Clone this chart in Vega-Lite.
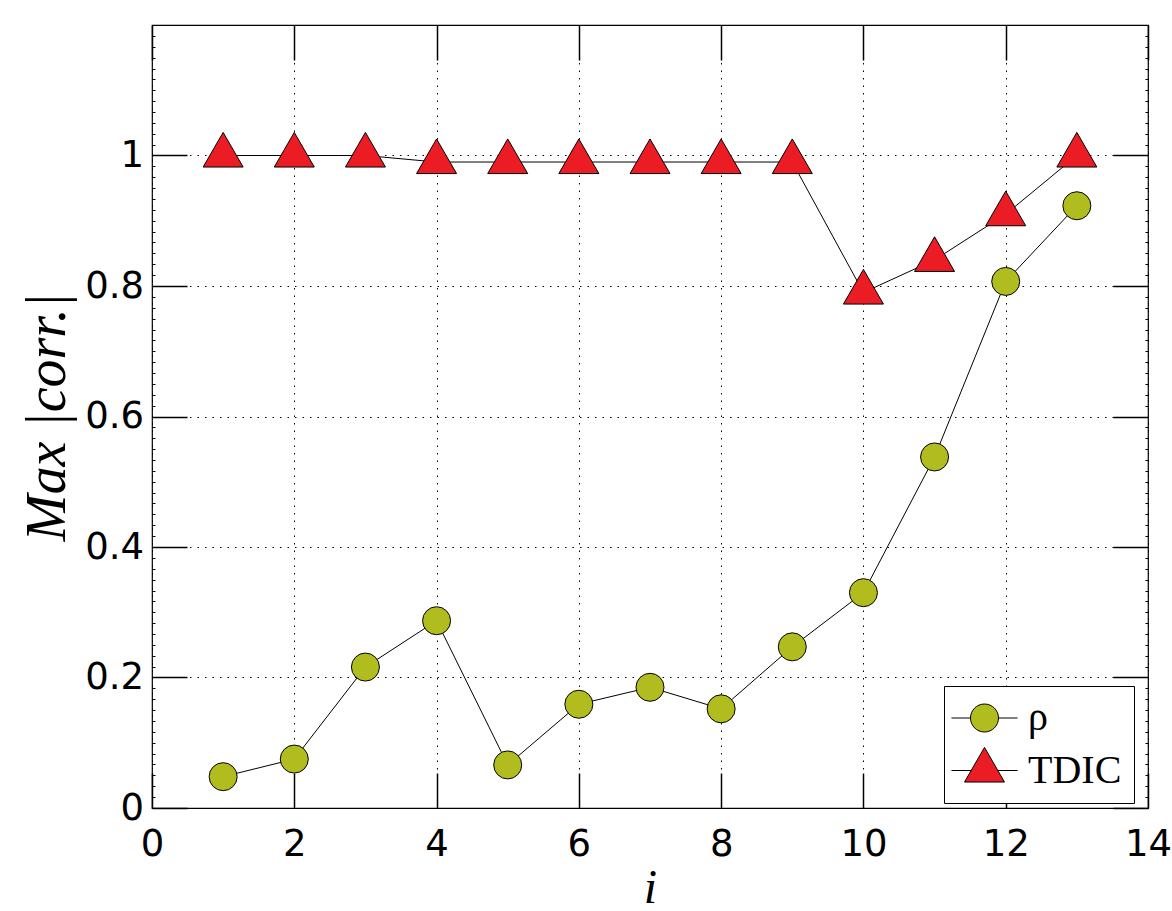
{
  "$schema": "https://vega.github.io/schema/vega-lite/v6.json",
  "autosize": "none",
  "width": 996,
  "height": 783,
  "padding": {"left": 152, "top": 25, "right": 24, "bottom": 103},
  "background": "white",
  "config": {"view": {"stroke": "#000", "strokeWidth": 1.2}},
  "data": {"values": [
    {"i": 1, "v": 0.048, "s": "ρ"}, {"i": 2, "v": 0.075, "s": "ρ"}, {"i": 3, "v": 0.216, "s": "ρ"},
    {"i": 4, "v": 0.287, "s": "ρ"}, {"i": 5, "v": 0.066, "s": "ρ"}, {"i": 6, "v": 0.159, "s": "ρ"},
    {"i": 7, "v": 0.185, "s": "ρ"}, {"i": 8, "v": 0.152, "s": "ρ"}, {"i": 9, "v": 0.247, "s": "ρ"},
    {"i": 10, "v": 0.33, "s": "ρ"}, {"i": 11, "v": 0.538, "s": "ρ"}, {"i": 12, "v": 0.807, "s": "ρ"},
    {"i": 13, "v": 0.923, "s": "ρ"},
    {"i": 1, "v": 1.0, "s": "TDIC"}, {"i": 2, "v": 1.0, "s": "TDIC"}, {"i": 3, "v": 1.0, "s": "TDIC"},
    {"i": 4, "v": 0.99, "s": "TDIC"}, {"i": 5, "v": 0.99, "s": "TDIC"}, {"i": 6, "v": 0.99, "s": "TDIC"},
    {"i": 7, "v": 0.99, "s": "TDIC"}, {"i": 8, "v": 0.99, "s": "TDIC"}, {"i": 9, "v": 0.99, "s": "TDIC"},
    {"i": 10, "v": 0.79, "s": "TDIC"}, {"i": 11, "v": 0.84, "s": "TDIC"}, {"i": 12, "v": 0.91, "s": "TDIC"},
    {"i": 13, "v": 1.0, "s": "TDIC"}
  ]},
  "resolve": {
    "axis": {"x": "independent", "y": "independent"},
    "scale": {"fill": "independent", "shape": "independent", "size": "independent"}
  },
  "layer": [
    {
      "mark": {"type": "line", "color": "#000", "strokeWidth": 1},
      "encoding": {
        "x": {"field": "i", "type": "quantitative", "scale": {"domain": [0, 14], "nice": false, "zero": false},
          "axis": {"orient": "bottom", "values": [0, 2, 4, 6, 8, 10, 12, 14], "grid": true, "gridDash": [1.5, 6], "gridColor": "#000", "gridWidth": 1,
            "tickSize": -35, "tickWidth": 1.5, "tickColor": "#000", "domain": false,
            "labelFont": "DejaVu Sans", "labelFontSize": 37, "labelColor": "#000", "labelPadding": 53, "labelFlush": false, "labelOverlap": false,
            "title": "i", "titleFont": "Liberation Serif", "titleFontStyle": "italic", "titleFontWeight": "normal", "titleFontSize": 48, "titleColor": "#000",
            "titleBaseline": "alphabetic", "titleY": 94}},
        "y": {"field": "v", "type": "quantitative", "scale": {"domain": [0, 1.2], "nice": false},
          "axis": {"orient": "left", "values": [0, 0.2, 0.4, 0.6, 0.8, 1], "format": "~g", "grid": true, "gridDash": [1.5, 6], "gridColor": "#000", "gridWidth": 1,
            "tickSize": -35, "tickWidth": 1.5, "tickColor": "#000", "domain": false,
            "labelFont": "DejaVu Sans", "labelFontSize": 37, "labelColor": "#000", "labelPadding": 43.5, "labelOverlap": false, "labelFlush": false,
            "title": "Max |corr.|", "titleFont": "Liberation Serif", "titleFontStyle": "italic", "titleFontWeight": "normal", "titleFontSize": 56, "titleColor": "#000", "titlePadding": 8}},
        "detail": {"field": "s", "type": "nominal"}
      }
    },
    {
      "mark": {"type": "point", "filled": true, "stroke": "#000", "strokeWidth": 1, "opacity": 1},
      "encoding": {
        "x": {"field": "i", "type": "quantitative",
          "axis": {"orient": "top", "values": [0, 2, 4, 6, 8, 10, 12, 14], "grid": false, "labels": false, "domain": false, "tickSize": -35, "tickWidth": 1.5, "tickColor": "#000", "title": null}},
        "y": {"field": "v", "type": "quantitative",
          "axis": {"orient": "right", "values": [0, 0.2, 0.4, 0.6, 0.8, 1], "grid": false, "labels": false, "domain": false, "tickSize": -35, "tickWidth": 1.5, "tickColor": "#000", "title": null}},
        "fill": {"field": "s", "type": "nominal", "scale": {"domain": ["ρ", "TDIC"], "range": ["#B1BC1E", "#EC1C24"]}, "legend": null},
        "size": {"field": "s", "type": "nominal", "scale": {"domain": ["ρ", "TDIC"], "range": [784, 1600]}, "legend": null},
        "shape": {"field": "s", "type": "nominal", "scale": {"domain": ["ρ", "TDIC"], "range": ["circle", "M0,-1.155L1,0.577L-1,0.577Z"]}, "legend": null}
      }
    },
    {
      "transform": [{"filter": "false"}],
      "mark": {"type": "point", "filled": true, "stroke": "#000", "strokeWidth": 1, "opacity": 1},
      "encoding": {
        "fill": {"field": "s", "type": "nominal", "scale": {"domain": ["ρ", "TDIC"], "range": ["#B1BC1E", "#EC1C24"]},
          "legend": {"orient": "none", "legendX": 792, "legendY": 661, "title": null, "padding": 12,
            "strokeColor": "#000", "fillColor": "white",
            "labelFont": "Liberation Serif", "labelFontSize": 40, "labelColor": "#000",
            "symbolOffset": 8, "labelOffset": 23, "rowPadding": 7, "symbolStrokeColor": "#000", "symbolStrokeWidth": 1}},
        "size": {"field": "s", "type": "nominal", "scale": {"domain": ["ρ", "TDIC"], "range": [784, 1600]},
          "legend": {"orient": "none", "legendX": 792, "legendY": 661, "title": null}},
        "shape": {"field": "s", "type": "nominal",
          "scale": {"domain": ["ρ", "TDIC"], "range": ["M-2.36,0L-1,0M1,0L2.36,0M-1,0A1,1 0 1,0 1,0A1,1 0 1,0 -1,0Z", "M-1.65,0L-0.667,0M0.667,0L1.65,0M0,-1.155L1,0.577L-1,0.577Z"]},
          "legend": {"orient": "none", "legendX": 792, "legendY": 661, "title": null}}
      }
    },
    {
      "mark": {"type": "point", "opacity": 0},
      "encoding": {
        "x": {"field": "i", "type": "quantitative", "axis": null},
        "y": {"field": "v", "type": "quantitative",
          "axis": {"orient": "left", "values": [0.0167,0.0333,0.05,0.0667,0.0833,0.1,0.1167,0.1333,0.15,0.1667,0.1833,0.2167,0.2333,0.25,0.2667,0.2833,0.3,0.3167,0.3333,0.35,0.3667,0.3833,0.4167,0.4333,0.45,0.4667,0.4833,0.5,0.5167,0.5333,0.55,0.5667,0.5833,0.6167,0.6333,0.65,0.6667,0.6833,0.7,0.7167,0.7333,0.75,0.7667,0.7833,0.8167,0.8333,0.85,0.8667,0.8833,0.9,0.9167,0.9333,0.95,0.9667,0.9833,1.0167,1.0333,1.05,1.0667,1.0833,1.1,1.1167,1.1333,1.15,1.1667,1.1833],
            "grid": false, "labels": false, "domain": false, "tickSize": -3, "tickWidth": 1, "tickColor": "#000", "title": null}}
      }
    },
    {
      "mark": {"type": "point", "opacity": 0},
      "encoding": {
        "x": {"field": "i", "type": "quantitative", "axis": null},
        "y": {"field": "v", "type": "quantitative",
          "axis": {"orient": "right", "values": [0.0167,0.0333,0.05,0.0667,0.0833,0.1,0.1167,0.1333,0.15,0.1667,0.1833,0.2167,0.2333,0.25,0.2667,0.2833,0.3,0.3167,0.3333,0.35,0.3667,0.3833,0.4167,0.4333,0.45,0.4667,0.4833,0.5,0.5167,0.5333,0.55,0.5667,0.5833,0.6167,0.6333,0.65,0.6667,0.6833,0.7,0.7167,0.7333,0.75,0.7667,0.7833,0.8167,0.8333,0.85,0.8667,0.8833,0.9,0.9167,0.9333,0.95,0.9667,0.9833,1.0167,1.0333,1.05,1.0667,1.0833,1.1,1.1167,1.1333,1.15,1.1667,1.1833],
            "grid": false, "labels": false, "domain": false, "tickSize": -3, "tickWidth": 1, "tickColor": "#000", "title": null}}
      }
    }
  ]
}
